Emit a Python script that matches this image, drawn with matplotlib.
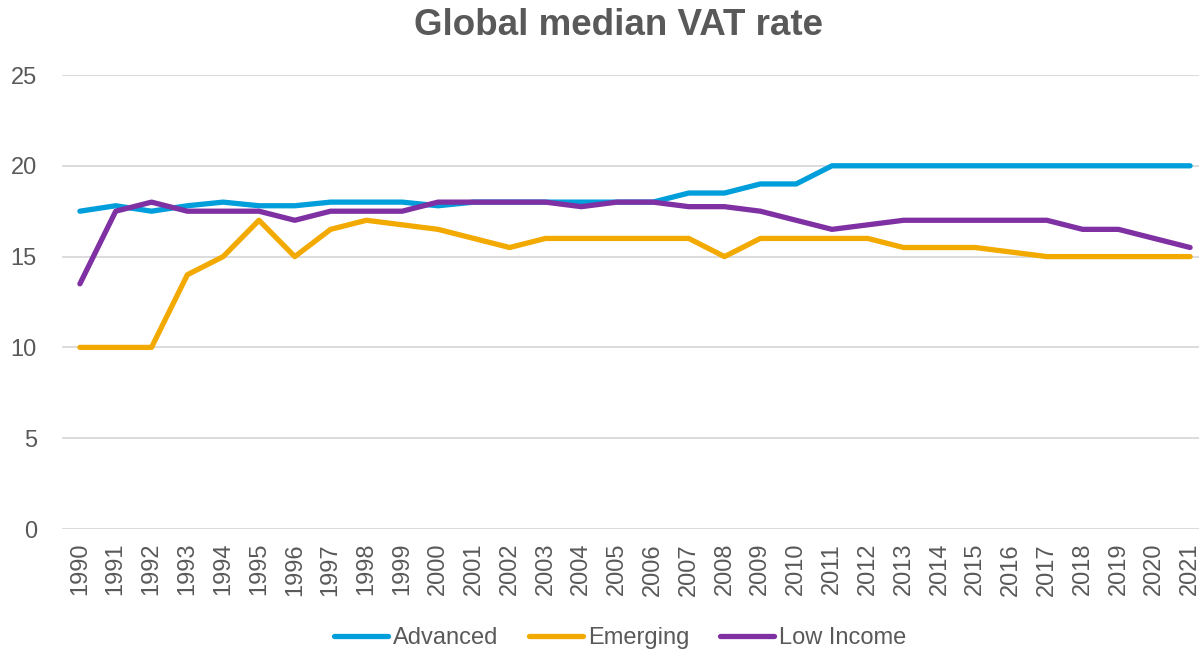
import matplotlib.pyplot as plt

years = list(range(1990, 2022))

advanced = [17.5, 17.8, 17.5, 17.8, 18.0, 17.8, 17.8, 18.0, 18.0, 18.0,
            17.8, 18.0, 18.0, 18.0, 18.0, 18.0, 18.0, 18.5, 18.5, 19.0,
            19.0, 20.0, 20.0, 20.0, 20.0, 20.0, 20.0, 20.0, 20.0, 20.0,
            20.0, 20.0]
emerging = [10.0, 10.0, 10.0, 14.0, 15.0, 17.0, 15.0, 16.5, 17.0, 16.75,
            16.5, 16.0, 15.5, 16.0, 16.0, 16.0, 16.0, 16.0, 15.0, 16.0,
            16.0, 16.0, 16.0, 15.5, 15.5, 15.5, 15.25, 15.0, 15.0, 15.0,
            15.0, 15.0]
low_income = [13.5, 17.5, 18.0, 17.5, 17.5, 17.5, 17.0, 17.5, 17.5, 17.5,
              18.0, 18.0, 18.0, 18.0, 17.75, 18.0, 18.0, 17.75, 17.75, 17.5,
              17.0, 16.5, 16.75, 17.0, 17.0, 17.0, 17.0, 17.0, 16.5, 16.5,
              16.0, 15.5]

series_names = ["Advanced", "Emerging", "Low Income"]
colors = ["#009EDB", "#F2A900", "#7F30A3"]
text_col = "#595959"

plt.rcParams['font.family'] = ['Liberation Sans', 'DejaVu Sans']

fig = plt.figure(figsize=(11.99, 6.53), dpi=100)
ax = fig.add_axes([62 / 1199, 1 - 529 / 653, 1146 / 1199, (529 - 75) / 653])

for vals, name, c in zip([advanced, emerging, low_income], series_names, colors):
    ax.plot(years, vals, color=c, lw=3.8, label=name,
            solid_capstyle='round', solid_joinstyle='round')

ax.set_xlim(1989.5, 2021.5)
ax.set_ylim(0, 25)
ax.set_yticks([0, 5, 10, 15, 20, 25])
ax.set_xticks(years)
ax.set_xticklabels([str(y) for y in years], rotation=90)
ax.grid(axis='y', color='#D9D9D9', lw=1.3)
ax.set_axisbelow(True)
for s in ax.spines.values():
    s.set_visible(False)
ax.tick_params(axis='both', length=0, colors=text_col, labelsize=17)
ax.tick_params(axis='x', pad=10)
ax.tick_params(axis='y', pad=18)

fig.suptitle("Global median VAT rate", x=619 / 1199, y=1 - 8 / 653, va='top',
             fontsize=26.5, fontweight='bold', color=text_col)

leg = fig.legend(loc='center', bbox_to_anchor=(620 / 1199, 15 / 653), ncol=3,
                 frameon=False, fontsize=17, handlelength=2.3,
                 handletextpad=0.2, columnspacing=1.3)
for t in leg.get_texts():
    t.set_color(text_col)

fig.savefig("out.png", dpi=100)
